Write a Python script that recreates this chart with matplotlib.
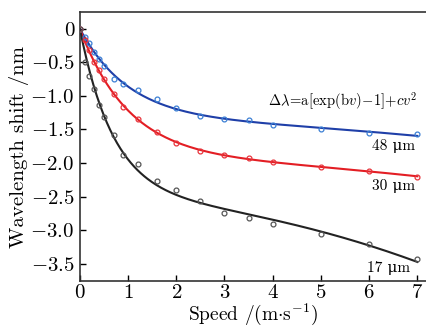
import numpy as np
import matplotlib
matplotlib.use('Agg')
import matplotlib.pyplot as plt

plt.rcParams['mathtext.fontset'] = 'cm'
plt.rcParams['font.family'] = ['cmr10', 'DejaVu Serif']
plt.rcParams['axes.formatter.use_mathtext'] = True
plt.rcParams['axes.unicode_minus'] = True

# speed values (m/s) and measured wavelength shift (nm)
speed = [0, 0.1, 0.2, 0.3, 0.4, 0.5, 0.7, 0.9, 1.2, 1.6, 2, 2.5, 3, 3.5, 4, 5, 6, 7]
shift_48 = [0, -0.12, -0.22, -0.34, -0.45, -0.55, -0.75, -0.83, -0.91, -1.05, -1.18,
            -1.30, -1.34, -1.36, -1.44, -1.50, -1.55, -1.57]
shift_30 = [0, -0.17, -0.32, -0.50, -0.61, -0.75, -0.97, -1.17, -1.35, -1.53, -1.70,
            -1.82, -1.88, -1.92, -1.99, -2.06, -2.12, -2.20]
shift_17 = [0, -0.50, -0.70, -0.89, -1.13, -1.31, -1.58, -1.88, -2.01, -2.26, -2.40,
            -2.57, -2.74, -2.82, -2.91, -3.06, -3.21, -3.43]

labels = ['48 \u03bcm', '30 \u03bcm', '17 \u03bcm']
line_colors = ['#1f3fa8', '#e31e24', '#222222']
mark_colors = ['#3b7fd4', '#e8343c', '#555555']


def fit_curve(x, y):
    # least squares fit of a[exp(bv)-1]+cv^2, scanning b
    x = np.asarray(x)
    y = np.asarray(y)
    best = None
    for b in np.linspace(-8, -0.05, 4000):
        A = np.column_stack([np.exp(b * x) - 1, x ** 2])
        coef, res, rk, sv = np.linalg.lstsq(A, y, rcond=None)
        err = np.sum((A @ coef - y) ** 2)
        if best is None or err < best[0]:
            best = (err, coef[0], b, coef[1])
    return best[1:]


fig = plt.figure(figsize=(4.27, 3.31), dpi=100)
ax = fig.add_axes([0.187, 0.15, 0.813, 0.814])

vv = np.linspace(0, 7, 300)
for ys, lc, mc in zip([shift_48, shift_30, shift_17], line_colors, mark_colors):
    a, b, c = fit_curve(speed, ys)
    ax.plot(vv, a * (np.exp(b * vv) - 1) + c * vv ** 2, color=lc, lw=1.5, zorder=2)
    ax.plot(speed, ys, 'o', mfc='none', mec=mc, ms=3.5, mew=0.9, zorder=3)

ax.text(7, -1.07, r'$\Delta\lambda\!=\!\mathrm{a[exp(b}v\mathrm{)\!-\!1]\!+\!}cv^2$',
        ha='right', va='center', fontsize=10.5)
ax.text(6.95, -1.75, labels[0], ha='right', va='center', fontsize=11)
ax.text(6.95, -2.34, labels[1], ha='right', va='center', fontsize=11)
ax.text(6.85, -3.56, labels[2], ha='right', va='center', fontsize=11)

ax.set_xlim(0, 7.2)
ax.set_ylim(-3.76, 0.25)
ax.set_xticks(range(0, 8))
ax.set_yticks([0, -0.5, -1.0, -1.5, -2.0, -2.5, -3.0, -3.5])
ax.set_yticklabels(['0', '$-0.5$', '$-1.0$', '$-1.5$', '$-2.0$', '$-2.5$', '$-3.0$', '$-3.5$'])
ax.tick_params(direction='in', length=4, width=1, labelsize=15, pad=4)
ax.tick_params(axis='x', pad=2)
ax.spines['right'].set_visible(False)
for s in ['left', 'bottom', 'top']:
    ax.spines[s].set_linewidth(1.2)
    ax.spines[s].set_color('#333333')

ax.set_xlabel(r'Speed /(m$\cdot$s$^{-1}$)', fontsize=14, labelpad=0)
ax.set_ylabel('Wavelength shift /nm', fontsize=15, labelpad=1)

fig.savefig('out.png', dpi=100)
